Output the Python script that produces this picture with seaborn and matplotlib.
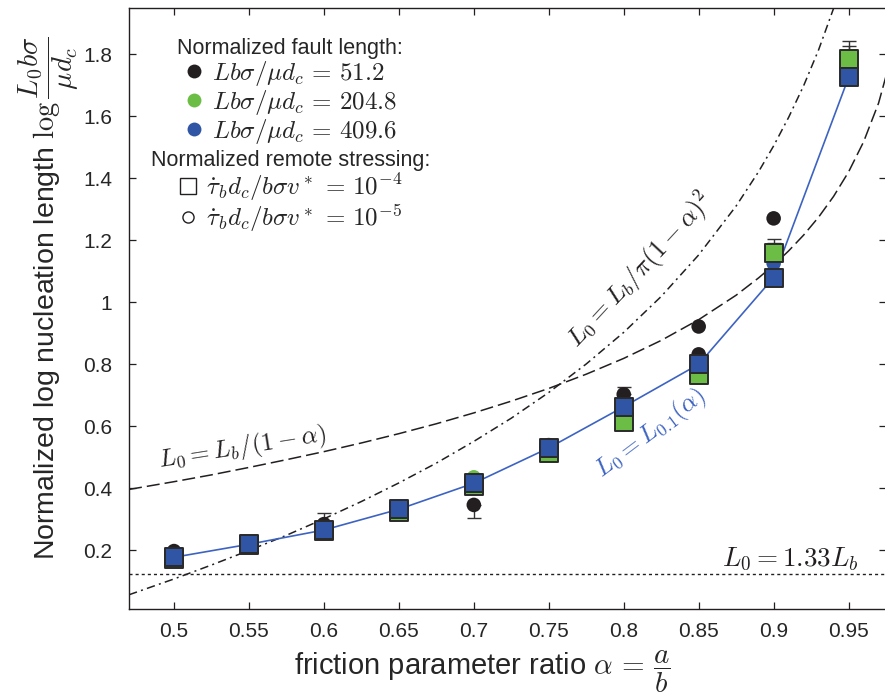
import matplotlib
matplotlib.use("Agg")
import matplotlib.pyplot as plt
from matplotlib.lines import Line2D
import seaborn as sns
import pandas as pd

# friction parameter ratio a/b
alpha = [0.50, 0.55, 0.60, 0.65, 0.70, 0.75, 0.80, 0.85, 0.90, 0.95]

# squares: remote stressing 1e-4
blue_sq = [0.177, 0.219, 0.265, 0.332, 0.416, 0.530, 0.663, 0.800, 1.080, 1.726]
green_sq = [0.172, 0.215, 0.262, 0.322, 0.408, 0.515, 0.615, 0.765, 1.158, 1.787]

# circles: remote stressing 1e-5
black_ci_alpha = [0.50, 0.60, 0.70, 0.75, 0.80, 0.85, 0.85, 0.90]
black_ci = [0.197, 0.284, 0.346, 0.539, 0.703, 0.922, 0.832, 1.271]
green_ci_alpha = [0.70]
green_ci = [0.435]
blue_ci_alpha = [0.90]
blue_ci = [1.126]

# error bars (x, centre, low, high)
err_alpha = [0.60, 0.70, 0.80, 0.90, 0.90, 0.95, 0.95]
err_mid = [0.284, 0.346, 0.703, 1.158, 1.158, 1.787, 1.787]
err_lo = [0.284, 0.304, 0.703, 1.158, 1.158, 1.787, 1.787]
err_hi = [0.320, 0.346, 0.726, 1.206, 1.193, 1.845, 1.829]

# theory curves
curve_alpha = [0.47, 0.50, 0.525, 0.55, 0.575, 0.60, 0.625, 0.65, 0.675, 0.70,
               0.725, 0.75, 0.775, 0.80, 0.825, 0.85, 0.875, 0.89, 0.90, 0.91,
               0.92, 0.93, 0.94, 0.95, 0.96, 0.97, 0.98]
dashed_L = [0.396, 0.421, 0.443, 0.467, 0.492, 0.518, 0.546, 0.576, 0.608, 0.643,
            0.681, 0.722, 0.768, 0.819, 0.877, 0.944, 1.023, 1.079, 1.120, 1.166,
            1.217, 1.275, 1.342, 1.421, 1.518, 1.643, 1.819]
dashdot_alpha = [0.47, 0.50, 0.525, 0.55, 0.575, 0.60, 0.625, 0.65, 0.675, 0.70,
                 0.725, 0.75, 0.775, 0.80, 0.825, 0.85, 0.875, 0.89, 0.90, 0.91,
                 0.92, 0.93, 0.94, 0.945]
dashdot_L = [0.056, 0.107, 0.152, 0.199, 0.248, 0.301, 0.357, 0.417, 0.481, 0.551,
             0.626, 0.709, 0.801, 0.903, 1.019, 1.153, 1.311, 1.422, 1.505, 1.597,
             1.699, 1.815, 1.949, 2.024]
L133 = 0.123

BLACK = "#231f20"
GREEN = "#6cbd45"
BLUE = "#2f55a4"
LINEBLUE = "#3d63c2"

sns.set_style("ticks")
plt.rcParams["font.family"] = ["Liberation Sans", "DejaVu Sans"]
plt.rcParams["mathtext.fontset"] = "cm"

fig = plt.figure(figsize=(8.85, 6.98), dpi=100)
ax = fig.add_axes([0.1458, 0.1275, 0.8554, 0.861])

# theory curves
sns.lineplot(x=curve_alpha, y=dashed_L, ax=ax, color=BLACK, lw=1.1,
             linestyle=(0, (8.5, 3.3)), zorder=1)
sns.lineplot(x=dashdot_alpha, y=dashdot_L, ax=ax, color=BLACK, lw=1.1,
             linestyle=(0, (5.5, 2.8, 1.3, 2.8)), zorder=1)
ax.axhline(L133, color=BLACK, lw=1.0, linestyle=(0, (2.2, 2.2)), zorder=1)

# blue L0.1 line through blue squares
sns.lineplot(x=alpha, y=blue_sq, ax=ax, color=LINEBLUE, lw=1.2, sort=False, zorder=2)

# error bars
for xa, m, lo, hi in zip(err_alpha, err_mid, err_lo, err_hi):
    ax.errorbar(xa, m, yerr=[[m - lo], [hi - m]], fmt="none", ecolor="#333333",
                elinewidth=1.0, capsize=5, capthick=1.0, zorder=2.5)

# circles
ci = pd.DataFrame({
    "alpha": black_ci_alpha + green_ci_alpha + blue_ci_alpha,
    "L": black_ci + green_ci + blue_ci,
    "set": ["k"] * len(black_ci) + ["g"] * len(green_ci) + ["b"] * len(blue_ci),
})
sns.scatterplot(data=ci, x="alpha", y="L", hue="set",
                palette={"k": BLACK, "g": GREEN, "b": BLUE},
                s=110, marker="o", edgecolor="none", legend=False, ax=ax, zorder=3)

# squares
sns.scatterplot(x=alpha, y=green_sq, color=GREEN, marker="s", s=170,
                edgecolor="#2a2a2a", linewidth=1.4, ax=ax, zorder=4)
sns.scatterplot(x=alpha, y=blue_sq, color=BLUE, marker="s", s=170,
                edgecolor="#2a2a2a", linewidth=1.4, ax=ax, zorder=5)

ax.set_xlim(0.47, 0.975)
ax.set_ylim(0.01, 1.95)
ax.set_xticks(alpha)
ax.set_xticklabels(["0.5", "0.55", "0.6", "0.65", "0.7", "0.75", "0.8", "0.85", "0.9", "0.95"])
ax.set_yticks([0.2, 0.4, 0.6, 0.8, 1.0, 1.2, 1.4, 1.6, 1.8])
ax.set_yticklabels(["0.2", "0.4", "0.6", "0.8", "1", "1.2", "1.4", "1.6", "1.8"])
ax.tick_params(direction="in", length=5, width=0.9, labelsize=15,
               top=True, right=True, color=BLACK)
ax.tick_params(axis="y", pad=12)
ax.tick_params(axis="x", pad=9)
for sp in ax.spines.values():
    sp.set_linewidth(1.0)
    sp.set_color(BLACK)

ax.set_xlabel(r"friction parameter ratio $\alpha \,=\, \dfrac{a}{b}$", fontsize=21)
ax.xaxis.set_label_coords(0.467, -0.066)
ax.set_ylabel(r"Normalized log nucleation length $\log\dfrac{L_0 b\sigma}{\mu d_c}$",
              fontsize=20.5)
ax.yaxis.set_label_coords(-0.064, 0.517)

# curve annotations
ax.text(0.546, 0.529, r"$L_0 = L_b/(1-\alpha)$", fontsize=18, rotation=9,
        ha="center", va="center", color=BLACK)
ax.text(0.811, 1.103, r"$L_0 = L_b/\pi(1-\alpha)^2$", fontsize=18.5, rotation=47,
        ha="center", va="center", color=BLACK)
ax.text(0.818, 0.577, r"$L_0 = L_{0.1}(\alpha)$", fontsize=18, rotation=37,
        ha="center", va="center", color=LINEBLUE)
ax.text(0.911, 0.174, r"$L_0 = 1.33L_b$", fontsize=19.5,
        ha="center", va="center", color=BLACK)

# legends
h1 = [Line2D([], [], ls="", marker="o", ms=10, mfc=c, mec="none") for c in (BLACK, GREEN, BLUE)]
l1 = [r"$Lb\sigma/\mu d_c \,=\, 51.2$", r"$Lb\sigma/\mu d_c \,=\, 204.8$",
      r"$Lb\sigma/\mu d_c \,=\, 409.6$"]
leg1 = ax.legend(h1, l1, title="Normalized fault length:", loc="upper center",
                 bbox_to_anchor=(0.213, 0.95), frameon=False, fontsize=18,
                 title_fontsize=15.5, handlelength=0.8, handletextpad=0.3,
                 labelspacing=0.0, borderpad=0, borderaxespad=0)
ax.add_artist(leg1)
h2 = [Line2D([], [], ls="", marker="s", ms=12, mfc="white", mec=BLACK, mew=1.0),
      Line2D([], [], ls="", marker="o", ms=8, mfc="white", mec=BLACK, mew=1.0)]
l2 = [r"$\dot{\tau}_b d_c/b\sigma v^* \,=\, 10^{-4}$",
      r"$\dot{\tau}_b d_c/b\sigma v^* \,=\, 10^{-5}$"]
ax.legend(h2, l2, title="Normalized remote stressing:", loc="upper center",
          bbox_to_anchor=(0.213, 0.764), frameon=False, fontsize=18,
          title_fontsize=15.5, handlelength=0.8, handletextpad=0.3,
          labelspacing=0.0, borderpad=0, borderaxespad=0)

fig.savefig("out.png", dpi=100)
